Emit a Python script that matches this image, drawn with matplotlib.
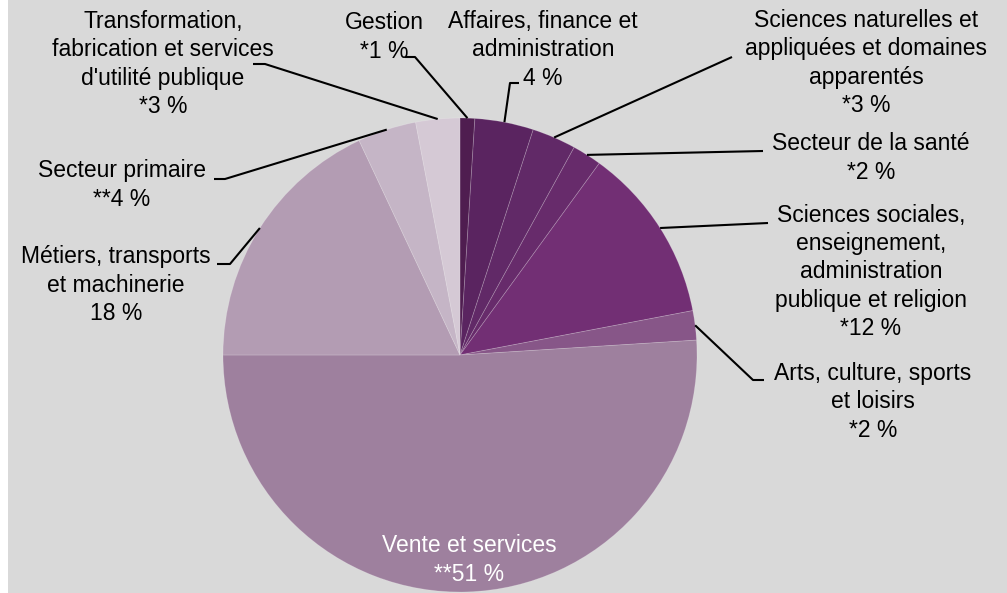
import numpy as np
import matplotlib
matplotlib.use("Agg")
import matplotlib.pyplot as plt
from matplotlib.patches import Rectangle

plt.rcParams['font.family'] = ['Liberation Sans', 'DejaVu Sans']

# ---- data ----
categories = [
    "Gestion",
    "Affaires, finance et\nadministration",
    "Sciences naturelles et\nappliquées et domaines\napparentés",
    "Secteur de la santé",
    "Sciences sociales,\nenseignement,\nadministration\npublique et religion",
    "Arts, culture, sports\net loisirs",
    "Vente et services",
    "Métiers, transports\net machinerie",
    "Secteur primaire",
    "Transformation,\nfabrication et services\nd'utilité publique",
]
values = [1, 4, 3, 2, 12, 2, 51, 18, 4, 3]
value_labels = ["*1 %", "4 %", "*3 %", "*2 %", "*12 %", "*2 %", "**51 %", "18 %", "**4 %", "*3 %"]
colors = ["#4f1d50", "#5a2460", "#612967", "#672b6b", "#722f74",
          "#875688", "#9e809e", "#b39cb3", "#c5b5c6", "#d5c9d5"]

W, H = 1007, 593
fig = plt.figure(figsize=(W / 100, H / 100), dpi=100, facecolor="white")
ax = fig.add_axes([0, 0, 1, 1])

def Y(y):
    return H - y

cx, cy, r = 460, 355, 237

wedges, _ = ax.pie(values, colors=colors, startangle=90, counterclock=False,
                   center=(cx, Y(cy)), radius=r, frame=True,
                   wedgeprops=dict(edgecolor=(1, 1, 1, 0.2), linewidth=0.6))

ax.add_patch(Rectangle((8, 0), W - 8, H, facecolor="#d9d9d9", edgecolor="none", zorder=-10))
ax.set_xlim(0, W)
ax.set_ylim(0, H)
ax.set_aspect("auto")
ax.axis("off")

# label layout (pixel coords, top-down y)
label_pos = [
    (384, 37), (543, 50), (866, 63), (871, 158), (871, 272),
    (873, 402), (469, 560), (116, 285), (122, 185), (163, 64),
]
elbows = [
    [(405, 57), (415, 57)],
    [(519, 83), (510, 83)],
    [(732, 57)],
    [(763, 151)],
    [(768, 223)],
    [(764, 380), (753, 380)],
    None,
    [(217, 264), (230, 264)],
    [(214, 179), (225, 179)],
    [(253, 64), (265, 64)],
]

fs = 16.5
for i, (cat, lab) in enumerate(zip(categories, value_labels)):
    x, y = label_pos[i]
    col = "white" if i == 6 else "black"
    ax.text(x, Y(y), cat + "\n" + lab, ha="center", va="center",
            fontsize=fs, color=col, linespacing=1.30, zorder=5)
    if elbows[i] is None:
        continue
    w = wedges[i]
    mid = np.deg2rad((w.theta1 + w.theta2) / 2)
    px = cx + r * np.cos(mid)
    py = Y(cy) + r * np.sin(mid)
    xs = [p[0] for p in elbows[i]] + [px]
    ys = [Y(p[1]) for p in elbows[i]] + [py]
    ax.plot(xs, ys, color="black", linewidth=1.5, solid_capstyle="butt", zorder=4)

fig.savefig("out.png", dpi=100, facecolor=fig.get_facecolor())
